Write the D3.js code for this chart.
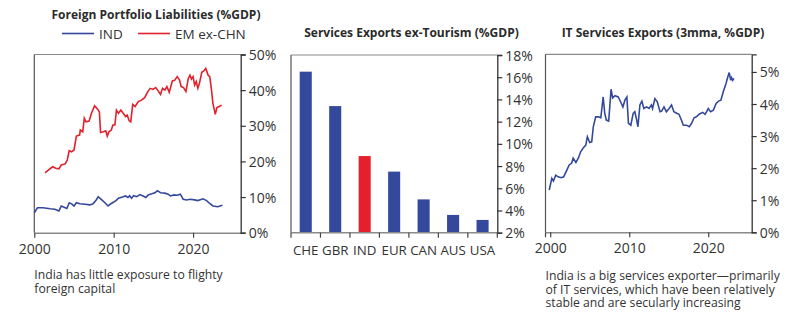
<!DOCTYPE html>
<html>
<head>
<meta charset="utf-8">
<script src="https://cdn.jsdelivr.net/npm/d3@7"></script>
<style>
  body { margin: 0; background: #fff; }
  svg { font-family: "Open Sans", sans-serif; }
  .title { font-weight: bold; font-size: 12px; fill: #2b2b2b; }
  .tick text { font-size: 14px; fill: #333; }
  .caption { font-size: 12.2px; fill: #333; }
</style>
</head>
<body>
<svg id="chart" width="800" height="322"></svg>
<script>
// foreign portfolio liabilities, %GDP: [year, value]
const indLiab = [
  [2000.0, 5.6], [2000.4, 7.0], [2001.1, 7.0], [2002.0, 6.7], [2002.6, 6.6], [2003.1, 6.1],
  [2003.4, 7.5], [2003.9, 7.0], [2004.1, 6.8], [2004.4, 8.4], [2004.7, 8.1], [2005.0, 7.5],
  [2005.3, 8.4], [2005.75, 8.1], [2006.4, 8.0], [2007.0, 7.8], [2007.4, 8.1], [2007.8, 9.2],
  [2008.05, 10.1], [2008.5, 9.2], [2008.9, 8.4], [2009.3, 7.5], [2009.7, 8.2], [2010.3, 9.0],
  [2010.6, 9.7], [2010.9, 9.9], [2011.2, 10.1], [2011.5, 10.3], [2011.8, 9.9], [2012.0, 10.4],
  [2012.25, 9.7], [2012.5, 10.4], [2012.9, 10.1], [2013.3, 10.7], [2013.7, 10.3], [2014.05, 9.9],
  [2014.35, 10.6], [2014.8, 10.9], [2015.2, 11.2], [2015.5, 11.8], [2015.9, 11.2], [2016.45, 11.1],
  [2016.85, 10.8], [2017.15, 10.3], [2017.6, 10.6], [2018.0, 10.5], [2018.4, 10.8], [2018.75, 9.4],
  [2019.2, 9.2], [2019.6, 9.4], [2020.2, 9.2], [2020.6, 9.0], [2021.25, 9.5], [2021.7, 9.0],
  [2022.1, 8.2], [2022.5, 7.5], [2023.1, 7.3], [2023.7, 7.7]
];
const emLiab = [
  [2001.35, 16.8], [2001.8, 17.6], [2002.3, 18.5], [2002.7, 18.1], [2003.1, 17.9], [2003.4, 19.0],
  [2003.9, 19.3], [2004.15, 20.4], [2004.4, 23.0], [2004.7, 22.7], [2005.0, 23.2], [2005.3, 27.1],
  [2005.7, 27.4], [2005.8, 28.8], [2006.1, 28.3], [2006.3, 32.1], [2006.5, 31.1], [2006.9, 31.3],
  [2007.2, 33.5], [2007.6, 35.6], [2008.0, 34.6], [2008.2, 33.9], [2008.35, 28.1], [2008.7, 28.3],
  [2009.0, 28.6], [2009.2, 27.1], [2009.4, 28.3], [2009.7, 28.8], [2009.9, 30.2], [2010.15, 30.2],
  [2010.35, 34.4], [2010.6, 33.5], [2010.9, 34.4], [2011.2, 33.5], [2011.5, 32.6], [2011.7, 33.0],
  [2011.95, 31.4], [2012.15, 31.1], [2012.4, 36.0], [2012.7, 35.4], [2013.1, 36.8], [2013.5, 37.2],
  [2013.9, 37.9], [2014.3, 39.6], [2014.6, 40.5], [2014.95, 40.2], [2015.3, 40.7], [2015.6, 39.8],
  [2015.9, 38.8], [2016.15, 40.5], [2016.45, 40.0], [2016.7, 41.0], [2017.0, 39.4], [2017.2, 41.0],
  [2017.4, 42.6], [2017.7, 42.8], [2018.0, 43.8], [2018.3, 42.8], [2018.5, 41.0], [2018.8, 40.7],
  [2019.1, 39.6], [2019.4, 43.3], [2019.6, 44.2], [2019.8, 43.1], [2020.0, 43.8], [2020.2, 41.4],
  [2020.4, 42.4], [2020.6, 40.5], [2020.8, 41.9], [2021.1, 45.0], [2021.35, 45.4], [2021.6, 46.1],
  [2021.9, 44.2], [2022.1, 43.8], [2022.3, 40.5], [2022.5, 36.3], [2022.8, 33.2], [2023.0, 35.1],
  [2023.3, 35.4], [2023.6, 35.8]
];

// services exports ex-tourism, %GDP
const countries = ['CHE', 'GBR', 'IND', 'EUR', 'CAN', 'AUS', 'USA'];
const servExports = [16.5, 13.4, 8.9, 7.5, 5.0, 3.6, 3.15];

// IT services exports, 3mma %GDP
const itExports = [
  [1999.87, 1.32], [2000.2, 1.68], [2000.4, 1.60], [2000.7, 1.78], [2001.0, 1.73], [2001.4, 1.70],
  [2001.7, 1.73], [2002.1, 1.94], [2002.4, 2.10], [2002.7, 2.15], [2002.9, 2.31], [2003.25, 2.18],
  [2003.55, 2.31], [2003.85, 2.51], [2004.2, 2.64], [2004.5, 2.72], [2004.7, 2.98], [2005.0, 2.80],
  [2005.25, 2.82], [2005.45, 3.29], [2005.75, 3.60], [2006.1, 3.60], [2006.4, 3.57], [2006.7, 4.22],
  [2006.9, 3.71], [2007.1, 3.50], [2007.4, 3.47], [2007.7, 4.46], [2007.9, 4.19], [2008.2, 4.26],
  [2008.6, 4.22], [2008.9, 4.07], [2009.2, 3.91], [2009.45, 4.12], [2009.7, 4.22], [2009.9, 3.40],
  [2010.2, 3.34], [2010.5, 3.71], [2010.7, 3.76], [2010.9, 3.55], [2011.1, 3.29], [2011.35, 3.97],
  [2011.6, 4.09], [2011.85, 3.86], [2012.2, 3.91], [2012.5, 3.86], [2012.8, 3.97], [2012.95, 3.86],
  [2013.25, 4.17], [2013.55, 4.07], [2013.9, 3.76], [2014.1, 3.78], [2014.4, 3.91], [2014.7, 3.76],
  [2015.05, 3.86], [2015.35, 3.97], [2015.65, 3.76], [2016.0, 3.71], [2016.3, 3.68], [2016.6, 3.50],
  [2016.85, 3.34], [2017.25, 3.34], [2017.6, 3.29], [2017.9, 3.40], [2018.2, 3.57], [2018.5, 3.60],
  [2018.85, 3.68], [2019.3, 3.74], [2019.6, 3.68], [2019.8, 3.76], [2020.0, 3.86], [2020.3, 3.76],
  [2020.65, 3.81], [2021.0, 4.02], [2021.3, 4.09], [2021.6, 4.12], [2021.9, 4.38], [2022.25, 4.64],
  [2022.4, 4.78], [2022.65, 4.98], [2022.85, 4.74], [2022.95, 4.82], [2023.1, 4.74], [2023.25, 4.80]
];

const yearTicks = [2000, 2010, 2020];
const liabTicks = [0, 10, 20, 30, 40, 50];
const servTicks = [2, 4, 6, 8, 10, 12, 14, 16, 18];
const itTicks = [0, 1, 2, 3, 4, 5];

const BLUE = '#34499c';
const RED = '#e3202c';

const svg = d3.select('#chart');

// box with grey top/left edges, dark right axis and grey bottom axis
function frame(g, x0, x1, y0, y1) {
  g.append('line').attr('x1', x0).attr('x2', x1).attr('y1', y0).attr('y2', y0)
    .attr('stroke', '#8a8a8a').attr('stroke-width', 1.2);
  g.append('line').attr('x1', x0).attr('x2', x0).attr('y1', y0).attr('y2', y1)
    .attr('stroke', '#555').attr('stroke-width', 1.2);
}

function rightAxis(g, y, x1, ticks, fmt) {
  const ax = g.append('g').attr('transform', `translate(${x1},0)`)
    .call(d3.axisRight(y).tickValues(ticks).tickFormat(fmt).tickSize(5).tickPadding(3));
  ax.select('.domain').attr('stroke', '#333').attr('stroke-width', 1.3);
  ax.selectAll('.tick line').attr('stroke', '#333').attr('stroke-width', 1.2);
  ax.selectAll('.tick text').attr('dy', '0.36em');
  ax.attr('font-family', null).attr('font-size', null);
}

function bottomAxis(g, axis, y1) {
  const ax = g.append('g').attr('transform', `translate(0,${y1})`).call(axis);
  ax.select('.domain').attr('stroke', '#8a8a8a').attr('stroke-width', 1.5);
  ax.selectAll('.tick line').attr('stroke', '#444').attr('stroke-width', 1.2);
  ax.selectAll('.tick text').attr('dy', '0.85em');
  ax.attr('font-family', null).attr('font-size', null);
}

const pct = d => d + '%';

// --- panel 1: foreign portfolio liabilities
{
  const x0 = 34.3, x1 = 240.7, y0 = 54.5, y1 = 232.7;
  const g = svg.append('g');
  const x = d3.scaleLinear().domain([2000, 2026]).range([x0, x1]);
  const y = d3.scaleLinear().domain([0, 50]).range([y1, y0]);

  frame(g, x0, x1, y0, y1);
  bottomAxis(g, d3.axisBottom(x).tickValues(yearTicks).tickFormat(d3.format('d')).tickSize(5).tickPadding(4).tickSizeOuter(0), y1);
  rightAxis(g, y, x1, liabTicks, pct);

  const line = d3.line().x(d => x(d[0])).y(d => y(d[1]));
  g.append('path').datum(emLiab).attr('d', line)
    .attr('fill', 'none').attr('stroke', RED).attr('stroke-width', 1.6);
  g.append('path').datum(indLiab).attr('d', line)
    .attr('fill', 'none').attr('stroke', BLUE).attr('stroke-width', 1.6);

  g.append('text').attr('class', 'title').attr('x', 156).attr('y', 19)
    .attr('text-anchor', 'middle').text('Foreign Portfolio Liabilities (%GDP)');

  const legend = [['IND', BLUE, 62], ['EM ex-CHN', RED, 138]];
  legend.forEach(([name, color, lx]) => {
    g.append('line').attr('x1', lx).attr('x2', lx + 32).attr('y1', 33.5).attr('y2', 33.5)
      .attr('stroke', color).attr('stroke-width', 1.6);
    g.append('text').attr('x', lx + 37).attr('y', 38.5).attr('font-size', 13.5).attr('fill', '#333').text(name);
  });

  g.append('text').attr('class', 'caption').attr('x', x0).attr('y', 279).text('India has little exposure to flighty');
  g.append('text').attr('class', 'caption').attr('x', x0).attr('y', 292.5).text('foreign capital');
}

// --- panel 2: services exports ex-tourism
{
  const x0 = 291, x1 = 497.3, y0 = 55, y1 = 232.7;
  const g = svg.append('g');
  const x = d3.scaleBand().domain(countries).range([x0, x1]).paddingInner(0.59).paddingOuter(0.295);
  const xTicks = d3.scaleBand().domain(countries).range([x0, x1]);
  const y = d3.scaleLinear().domain([2, 18]).range([y1, y0]);

  frame(g, x0, x1, y0, y1);

  g.selectAll('rect.bar').data(countries).join('rect')
    .attr('class', 'bar')
    .attr('x', d => x(d))
    .attr('width', x.bandwidth())
    .attr('y', (d, i) => y(servExports[i]))
    .attr('height', (d, i) => y(2) - y(servExports[i]))
    .attr('fill', d => d === 'IND' ? RED : BLUE);

  const ax = g.append('g').attr('transform', `translate(0,${y1})`);
  ax.append('line').attr('x1', x0).attr('x2', x1).attr('stroke', '#8a8a8a').attr('stroke-width', 1.5);
  const bounds = countries.map(c => xTicks(c)).concat([x1]);
  ax.selectAll('line.tk').data(bounds).join('line').attr('class', 'tk')
    .attr('x1', d => d).attr('x2', d => d).attr('y1', 0).attr('y2', 5)
    .attr('stroke', '#444').attr('stroke-width', 1.2);
  ax.selectAll('text').data(countries).join('text')
    .attr('x', d => xTicks(d) + xTicks.bandwidth() / 2).attr('y', 22.5)
    .attr('text-anchor', 'middle').attr('font-size', 13.3).attr('fill', '#333')
    .text(d => d);

  rightAxis(g, y, x1, servTicks, pct);

  g.append('text').attr('class', 'title').attr('x', 411.5).attr('y', 37)
    .attr('text-anchor', 'middle').text('Services Exports ex-Tourism (%GDP)');
}

// --- panel 3: IT services exports
{
  const x0 = 545.5, x1 = 751.7, y0 = 54.3, y1 = 232.3;
  const g = svg.append('g');
  const x = d3.scaleLinear().domain([1999.4, 2025.5]).range([x0, x1]);
  const y = d3.scaleLinear().domain([0, 5.55]).range([y1, y0]);

  frame(g, x0, x1, y0, y1);
  bottomAxis(g, d3.axisBottom(x).tickValues(yearTicks).tickFormat(d3.format('d')).tickSize(5).tickPadding(4).tickSizeOuter(0), y1);
  g.append('line').attr('x1', x0).attr('x2', x0).attr('y1', y1).attr('y2', y1 + 5)
    .attr('stroke', '#444').attr('stroke-width', 1.2);
  rightAxis(g, y, x1, itTicks, pct);

  g.append('path').datum(itExports)
    .attr('d', d3.line().x(d => x(d[0])).y(d => y(d[1])))
    .attr('fill', 'none').attr('stroke', BLUE).attr('stroke-width', 1.6);

  g.append('text').attr('class', 'title').attr('x', 663).attr('y', 37)
    .attr('text-anchor', 'middle').text('IT Services Exports (3mma, %GDP)');

  const lines = ['India is a big services exporter\u2014primarily',
    'of IT services, which have been relatively',
    'stable and are secularly increasing'];
  lines.forEach((t, i) => {
    g.append('text').attr('class', 'caption').attr('x', x0).attr('y', 280 + i * 13.5).text(t);
  });
}
</script>
</body>
</html>
